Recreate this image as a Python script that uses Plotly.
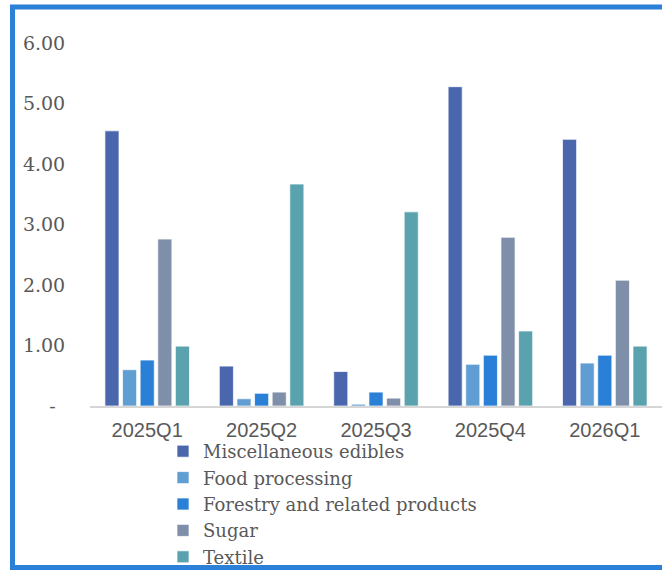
import plotly.graph_objects as go

categories = ["2025Q1", "2025Q2", "2025Q3", "2025Q4", "2026Q1"]
misc_edibles = [4.55, 0.66, 0.57, 5.28, 4.41]
food_processing = [0.60, 0.12, 0.03, 0.69, 0.71]
forestry = [0.76, 0.21, 0.23, 0.84, 0.84]
sugar = [2.76, 0.23, 0.13, 2.79, 2.08]
textile = [0.99, 3.67, 3.21, 1.24, 0.99]

series = [
    ("Miscellaneous edibles", misc_edibles, "#4a67ae"),
    ("Food processing", food_processing, "#5f9dd3"),
    ("Forestry and related products", forestry, "#2a7fd7"),
    ("Sugar", sugar, "#7f8fa9"),
    ("Textile", textile, "#5aa3ae"),
]

W, H = 662, 570
ML, MR, MT, MB = 90, 0, 25, 164

fig = go.Figure()
for name, vals, col in series:
    fig.add_trace(go.Bar(
        x=categories, y=vals, name=name,
        marker=dict(color=col, line=dict(color="rgba(255,255,255,0.7)", width=1)),
    ))

pw = W - ML - MR
ph = H - MT - MB
def px2x(p):
    return (p - ML) / pw
def py2y(p):
    return (H - MB - p) / ph

fig.add_shape(type="rect", xref="paper", yref="paper",
              x0=px2x(12.5), x1=px2x(680), y0=py2y(567.5), y1=py2y(7),
              line=dict(color="#2b80d8", width=5), fillcolor="rgba(0,0,0,0)", layer="below")

fig.update_layout(
    width=W, height=H,
    margin=dict(l=ML, r=MR, t=MT, b=MB, autoexpand=False),
    paper_bgcolor="white", plot_bgcolor="white",
    barmode="group", bargap=0.23, bargroupgap=0.2,
    showlegend=True,
    legend=dict(orientation="v", xref="container", yref="container",
                x=163 / W, y=1 - 433 / H, xanchor="left", yanchor="top",
                font=dict(family="DejaVu Serif", size=18, color="#595959"),
                bgcolor="rgba(0,0,0,0)", itemwidth=30),
    xaxis=dict(showline=True, linecolor="#d6d6d6", linewidth=1.5, showgrid=False,
               ticks="outside", ticklen=5, tickcolor="rgba(0,0,0,0)",
               tickfont=dict(family="Liberation Sans", size=20, color="#595959"),
               fixedrange=True),
    yaxis=dict(range=[0, 6.3], showgrid=False, zeroline=False, showline=False,
               tickmode="array", tickvals=[0, 1, 2, 3, 4, 5, 6],
               ticktext=["-\u2002", "1.00", "2.00", "3.00", "4.00", "5.00", "6.00"],
               ticks="outside", ticklen=20, tickcolor="rgba(0,0,0,0)",
               tickfont=dict(family="DejaVu Serif", size=19, color="#595959")),
)

fig.write_html("out.html")
